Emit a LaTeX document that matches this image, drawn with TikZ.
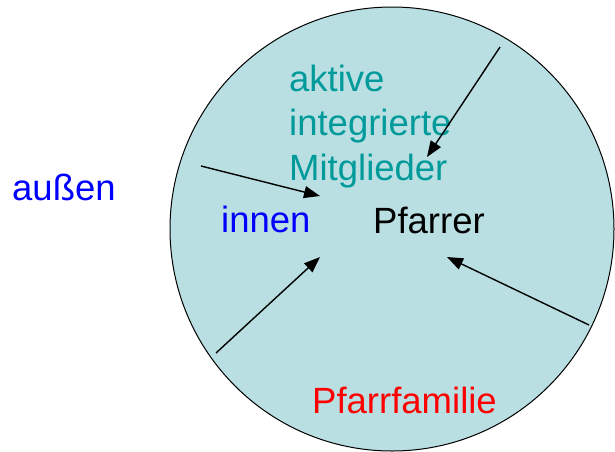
\documentclass[tikz,border=0pt]{standalone}
\usepackage{fontspec}
\setmainfont{Liberation Sans}
\usetikzlibrary{arrows.meta}
\definecolor{circfill}{HTML}{B9DFE3}
\definecolor{tealtxt}{HTML}{009A9A}
\begin{document}
\begin{tikzpicture}[x=1pt,y=-1pt,
  lbl/.style={anchor=base west,inner sep=0pt,font=\fontsize{36.5}{44}\selectfont},
  arr/.style={line width=1.4pt,-{Triangle[length=16pt,width=12pt]}}]
\useasboundingbox (0,0) rectangle (615,451);
\node[circle,draw=black,line width=1pt,fill=circfill,minimum size=444pt,inner sep=0pt] (circ) at (392,229) {};
\node[lbl,text=blue] (aussen) at (12,200) {außen};
\node[lbl,text=blue] (innen) at (221,232) {innen};
\node[lbl,text=black] (pfarrer) at (373,233) {Pfarrer};
\node[lbl,text=tealtxt] (aktive) at (289,91) {aktive};
\node[lbl,text=tealtxt] (integ) at (289,135) {integrierte};
\node[lbl,text=tealtxt] (mitgl) at (289,180) {Mitglieder};
\node[lbl,text=red] (pfam) at (312,413) {Pfarrfamilie};
\coordinate (s1) at (500,47);  \coordinate (e1) at (427,157);
\coordinate (s2) at (201,166); \coordinate (e2) at (320,196);
\coordinate (s3) at (216,353); \coordinate (e3) at (320,257);
\coordinate (s4) at (589,325); \coordinate (e4) at (447,257);
\draw[arr] (s1) -- (e1);
\draw[arr] (s2) -- (e2);
\draw[arr] (s3) -- (e3);
\draw[arr] (s4) -- (e4);
\end{tikzpicture}
\end{document}
